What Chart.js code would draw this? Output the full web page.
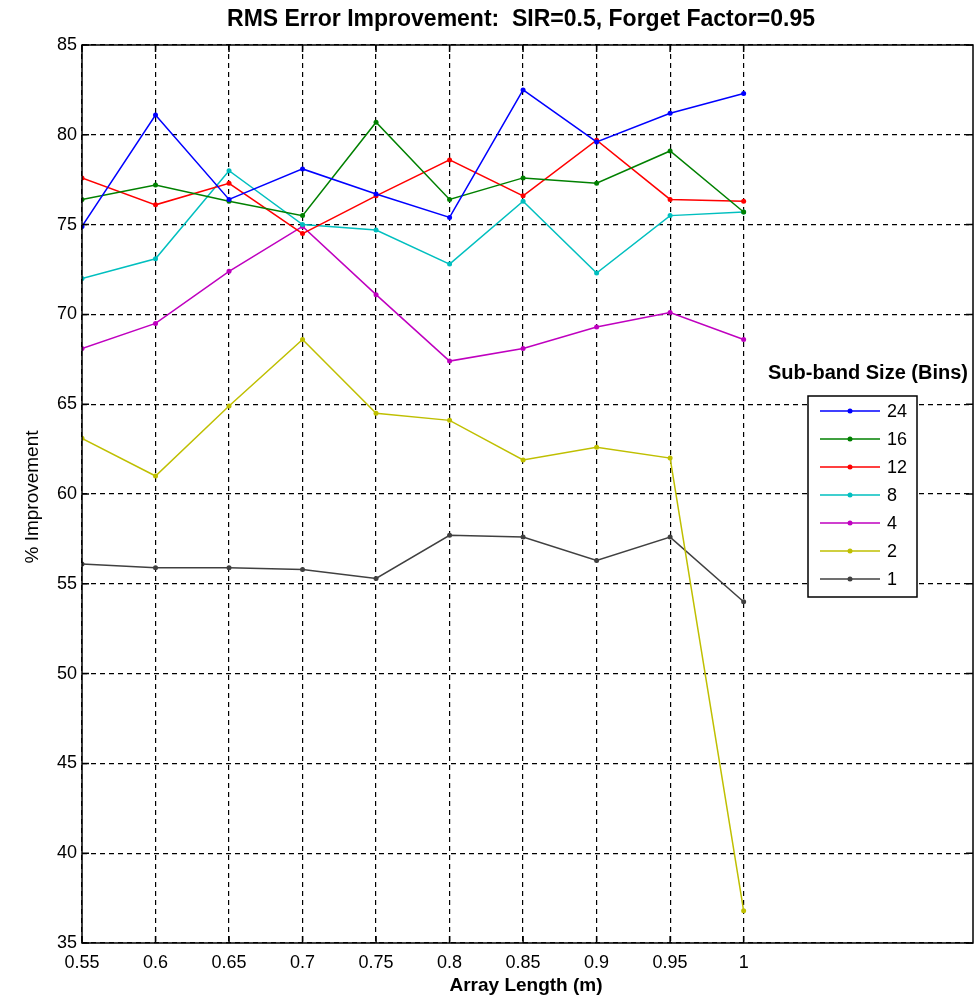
<!DOCTYPE html>
<html>
<head>
<meta charset="utf-8">
<script src="https://cdn.jsdelivr.net/npm/chart.js@4/dist/chart.umd.min.js"></script>
<style>
  html, body { margin: 0; padding: 0; background: #fff; }
  canvas { display: block; }
</style>
</head>
<body>
<canvas id="chart" width="977" height="1003"></canvas>
<script>
// array length (m)
const xValues = [0.55, 0.6, 0.65, 0.7, 0.75, 0.8, 0.85, 0.9, 0.95, 1]
const xTickLabels = ["0.55", "0.6", "0.65", "0.7", "0.75", "0.8", "0.85", "0.9", "0.95", "1"]

// % improvement per sub-band size (bins)
const bins24 = [74.9, 81.1, 76.4, 78.1, 76.7, 75.4, 82.5, 79.6, 81.2, 82.3]
const bins16 = [76.4, 77.2, 76.3, 75.5, 80.7, 76.4, 77.6, 77.3, 79.1, 75.7]
const bins12 = [77.6, 76.1, 77.3, 74.5, 76.6, 78.6, 76.6, 79.7, 76.4, 76.3]
const bins8  = [72.0, 73.1, 78.0, 75.0, 74.7, 72.8, 76.3, 72.3, 75.5, 75.7]
const bins4  = [68.1, 69.5, 72.4, 74.9, 71.1, 67.4, 68.1, 69.3, 70.1, 68.6]
const bins2  = [63.1, 61.0, 64.9, 68.6, 64.5, 64.1, 61.9, 62.6, 62.0, 36.8]
const bins1  = [56.1, 55.9, 55.9, 55.8, 55.3, 57.7, 57.6, 56.3, 57.6, 54.0]

const seriesLabels = ["24", "16", "12", "8", "4", "2", "1"]
const seriesData = [bins24, bins16, bins12, bins8, bins4, bins2, bins1]
const seriesColors = ["#0000ff", "#008000", "#ff0000", "#00bfbf", "#bf00bf", "#bfbf00", "#404040"]

const FONT = "'Liberation Sans', Arial, sans-serif"

const datasets = seriesData.map((vals, i) => ({
  label: seriesLabels[i],
  data: vals.map((v, j) => ({ x: xValues[j], y: v })),
  borderColor: seriesColors[i],
  backgroundColor: seriesColors[i],
  borderWidth: 1.5,
  pointRadius: 2.5,
  pointBorderWidth: 0,
  pointBackgroundColor: seriesColors[i],
  tension: 0,
  fill: false,
}))

// box, inner ticks, titles and the MATLAB-style legend
const decor = {
  id: "decor",
  afterDraw(chart) {
    const ctx = chart.ctx
    const a = chart.chartArea
    const xs = chart.scales.x, ys = chart.scales.y
    ctx.save()

    // axis box
    ctx.strokeStyle = "#000"
    ctx.lineWidth = 1.5
    ctx.setLineDash([])
    ctx.strokeRect(a.left, a.top, a.right - a.left, a.bottom - a.top)

    // inner tick marks
    ctx.beginPath()
    xs.ticks.forEach(t => {
      const px = xs.getPixelForValue(t.value)
      ctx.moveTo(px, a.bottom); ctx.lineTo(px, a.bottom - 7)
      ctx.moveTo(px, a.top); ctx.lineTo(px, a.top + 7)
    })
    ys.ticks.forEach(t => {
      const py = ys.getPixelForValue(t.value)
      ctx.moveTo(a.left, py); ctx.lineTo(a.left + 7, py)
      ctx.moveTo(a.right, py); ctx.lineTo(a.right - 7, py)
    })
    ctx.stroke()

    // titles
    ctx.fillStyle = "#000"
    ctx.textAlign = "center"
    ctx.textBaseline = "middle"
    ctx.font = "bold 23px " + FONT
    ctx.fillText("RMS Error Improvement:  SIR=0.5, Forget Factor=0.95", 521, 20)
    ctx.font = "bold 19px " + FONT
    ctx.fillText("Array Length (m)", 526, 986)
    ctx.save()
    ctx.translate(33, 497)
    ctx.rotate(-Math.PI / 2)
    ctx.font = "19px " + FONT
    ctx.fillText("% Improvement", 0, 0)
    ctx.restore()

    // legend
    ctx.font = "bold 20px " + FONT
    ctx.fillText("Sub-band Size (Bins)", 868, 373)
    const bx = 808, by = 396, bw = 109, bh = 201
    ctx.fillStyle = "#fff"
    ctx.fillRect(bx, by, bw, bh)
    ctx.strokeStyle = "#000"
    ctx.lineWidth = 1.5
    ctx.strokeRect(bx, by, bw, bh)
    ctx.font = "18px " + FONT
    ctx.textAlign = "left"
    chart.data.datasets.forEach((ds, i) => {
      const y = 411 + i * 28
      ctx.strokeStyle = ds.borderColor
      ctx.lineWidth = 1.5
      ctx.beginPath()
      ctx.moveTo(820, y); ctx.lineTo(880, y)
      ctx.stroke()
      ctx.fillStyle = ds.borderColor
      ctx.beginPath()
      ctx.arc(850, y, 2.5, 0, Math.PI * 2)
      ctx.fill()
      ctx.fillStyle = "#000"
      ctx.fillText(ds.label, 887, y + 1)
    })
    ctx.restore()
  }
}

new Chart(document.getElementById("chart"), {
  type: "line",
  data: { datasets },
  plugins: [decor],
  options: {
    responsive: false,
    animation: false,
    layout: { padding: { top: 45, right: 1, left: 0, bottom: 0 } },
    plugins: {
      legend: { display: false },
      title: { display: false },
      tooltip: { enabled: false },
    },
    scales: {
      x: {
        type: "linear",
        min: 0.55,
        max: 1.156,
        afterBuildTicks: (scale) => {
          scale.ticks = xValues.map(v => ({ value: v }))
        },
        afterFit: (scale) => { scale.height = 60 },
        ticks: {
          autoSkip: false,
          maxRotation: 0,
          padding: 9,
          color: "#000",
          font: { family: FONT, size: 18 },
          callback: (v, i) => xTickLabels[i],
        },
        grid: { color: "#000", lineWidth: 1.2, drawTicks: false },
        border: { display: false, dash: [5, 4] },
      },
      y: {
        min: 35,
        max: 85,
        afterFit: (scale) => { scale.width = 82 },
        ticks: {
          stepSize: 5,
          padding: 5,
          color: "#000",
          font: { family: FONT, size: 18 },
        },
        grid: { color: "#000", lineWidth: 1.2, drawTicks: false },
        border: { display: false, dash: [5, 4] },
      },
    },
  },
})
</script>
</body>
</html>
